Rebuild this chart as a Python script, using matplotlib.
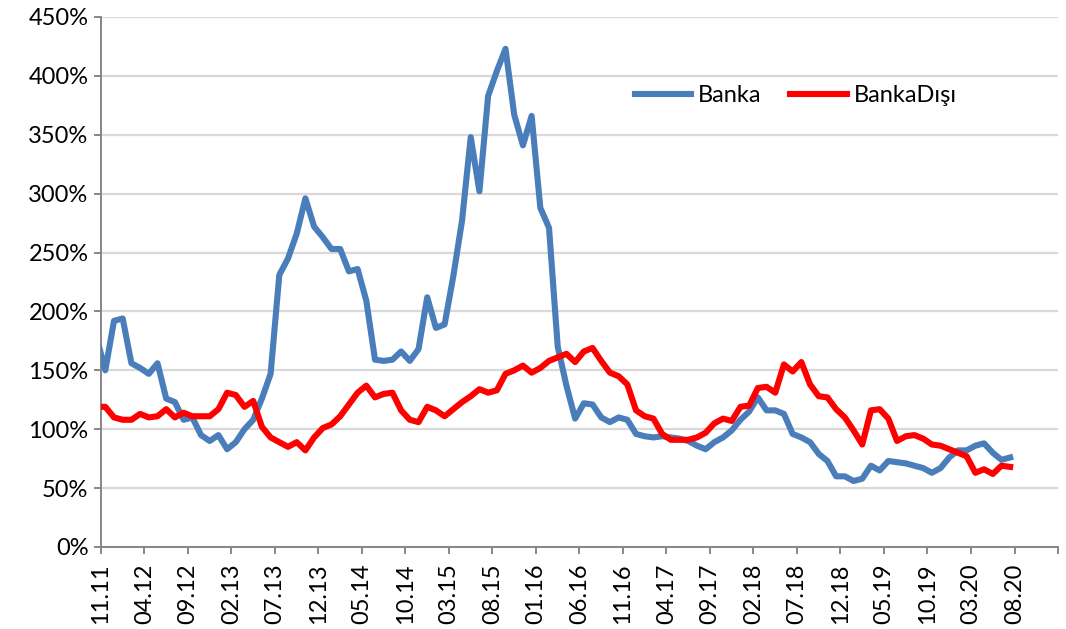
import matplotlib.pyplot as plt
import numpy as np

# Aylık oranlar (%), ilk değer eksenin solunda kalıyor
banka = [178, 150, 192, 194, 156, 152, 147, 156, 126, 123, 108, 110, 95, 90, 95, 83,
         89, 100, 108, 126, 147, 231, 245, 266, 296, 272, 263, 253, 253, 234, 236, 209,
         159, 158, 159, 166, 158, 168, 212, 186, 189, 230, 277, 348, 302, 383, 404, 423,
         367, 341, 366, 288, 271, 170, 137, 109, 122, 121, 110, 106, 110, 108, 96, 94,
         93, 94, 93, 92, 90, 86, 83, 89, 93, 99, 108, 115, 127, 116, 116, 113,
         96, 93, 89, 79, 73, 60, 60, 56, 58, 69, 65, 73, 72, 71, 69, 67,
         63, 67, 76, 82, 82, 86, 88, 80, 74, 76]
banka_disi = [119, 119, 110, 108, 108, 113, 110, 111, 117, 110, 114, 111, 111, 111, 117, 131,
              129, 119, 124, 102, 93, 89, 85, 89, 82, 93, 101, 104, 111, 121, 131, 137,
              127, 130, 131, 116, 108, 106, 119, 116, 111, 117, 123, 128, 134, 131, 133, 147,
              150, 154, 148, 152, 158, 161, 164, 157, 166, 169, 158, 148, 145, 138, 116, 111,
              109, 96, 91, 91, 91, 93, 97, 105, 109, 107, 119, 120, 135, 136, 131, 155,
              149, 157, 138, 128, 127, 117, 110, 99, 87, 116, 117, 109, 90, 94, 95, 92,
              87, 86, 83, 80, 77, 63, 66, 62, 69, 68]

etiketler = ['11.11', '04.12', '09.12', '02.13', '07.13', '12.13', '05.14', '10.14',
             '03.15', '08.15', '01.16', '06.16', '11.16', '04.17', '09.17', '02.18',
             '07.18', '12.18', '05.19', '10.19', '03.20', '08.20', '']

plt.rcParams['font.family'] = ['Lato', 'DejaVu Sans']

# ay ortası konumları
x = np.arange(-1, len(banka) - 1) + 0.5

fig = plt.figure(figsize=(10.66, 6.29), dpi=100)
ax = fig.add_axes([0.0947, 0.1304, 0.8978, 0.8426])

ax.plot(x, banka, color='#4a7ebb', lw=4.4, label='Banka', solid_joinstyle='round', zorder=3)
ax.plot(x, banka_disi, color='#ff0000', lw=4.4, label='BankaDışı', solid_joinstyle='round', zorder=4)

ax.set_xlim(0, 110)
ax.set_ylim(0, 450)
ax.set_yticks(np.arange(0, 451, 50))
ax.set_yticklabels(['%d%%' % v for v in range(0, 451, 50)])
ax.set_xticks(np.arange(0, 111, 5))
ax.set_xticklabels(etiketler, rotation=90)

ax.grid(axis='y', color='#d9d9d9', lw=1.6, zorder=0)
for s in ['top', 'right']:
    ax.spines[s].set_visible(False)
for s in ['left', 'bottom']:
    ax.spines[s].set_color('#868686')
    ax.spines[s].set_linewidth(1.4)
ax.tick_params(axis='both', colors='#868686', labelcolor='black', labelsize=17,
               length=5, width=1.4)
ax.tick_params(axis='y', pad=4)
ax.tick_params(axis='x', pad=7)

ax.legend(loc='center', bbox_to_anchor=(0.726, 0.851), ncol=2, frameon=False,
          fontsize=17, handlelength=2.4, handletextpad=0.3, columnspacing=1.2)

fig.savefig('out.png', dpi=100)
